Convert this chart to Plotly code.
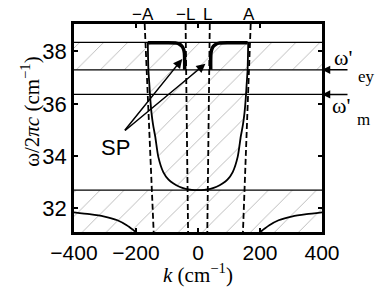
import plotly.graph_objects as go

# ---------------- data ----------------
k_range = [-400, 400]
w_range = [31.1, 39.05]
x_ticks = [-400, -200, 0, 200, 400]
y_ticks = [32, 34, 36, 38]

# horizontal characteristic frequencies
w_band_top = 38.35      # top of upper reststrahlen band
w_ey = 37.30            # omega'_ey
w_m = 36.36             # omega'_m
w_low_band_top = 32.70  # top of lower band

# lower branch (left half, right half is mirror)
k_low_left = [-400, -350, -305, -260, -230, -208, -195]
w_low = [31.85, 31.78, 31.70, 31.55, 31.36, 31.17, 31.05]
k_low_right = [195, 208, 230, 260, 305, 350, 400]
w_low_right = [31.05, 31.17, 31.36, 31.55, 31.70, 31.78, 31.85]

# U-shaped bulk branch
k_U = [-162, -160, -157, -154, -150, -145, -138, -128, -112, -95, -79, -60, -40, -20, 0,
       20, 40, 60, 79, 95, 112, 128, 138, 145, 150, 154, 157, 160, 162]
w_U = [38.33, 37.30, 36.75, 36.20, 35.65, 35.20, 34.75, 33.97, 33.39, 33.10, 32.95, 32.83, 32.75, 32.71, 32.70,
       32.71, 32.75, 32.83, 32.95, 33.10, 33.39, 33.97, 34.75, 35.20, 35.65, 36.20, 36.75, 37.30, 38.33]

# surface polariton (SP) branches (thick)
k_SP_left = [-162, -100, -70, -60, -52, -47, -44, -43, -43]
w_SP_left = [38.33, 38.33, 38.32, 38.28, 38.20, 38.10, 37.95, 37.70, 37.30]
k_SP_right = [41, 41, 42, 45, 50, 58, 68, 100, 160]
w_SP_right = [37.30, 37.70, 37.95, 38.10, 38.20, 38.28, 38.32, 38.33, 38.33]

# dashed lines: (k at top, k at bottom)
dash_labels = ["\u2212A", "\u2212L", "L", "A"]
dash_k_top = [-172, -40, 38, 170]
dash_k_bottom = [-143, -32, 30, 145]
dash_label_k = [-178, -40, 31, 163]

# SP arrows: tail and heads
sp_tail = (-240, 34.93)
sp_heads = [(-51, 37.71), (24, 37.53)]

SANS = "Liberation Sans, Arial, sans-serif"
SERIF = "Liberation Serif, Times New Roman, serif"

fig = go.Figure()

pattern = dict(shape="/", fgcolor="#666666", bgcolor="white", size=17, solidity=0.05)

# hatched upper band
fig.add_trace(go.Scatter(x=[k_range[0], k_range[1], k_range[1], k_range[0]],
                         y=[w_ey, w_ey, w_band_top, w_band_top],
                         fill="toself", fillpattern=pattern, fillcolor="white",
                         line=dict(width=0), mode="lines", hoverinfo="skip"))
# hatched lower band
fig.add_trace(go.Scatter(x=[k_range[0], k_range[1], k_range[1], k_range[0]],
                         y=[w_range[0] - 1, w_range[0] - 1, w_low_band_top, w_low_band_top],
                         fill="toself", fillpattern=pattern, fillcolor="white",
                         line=dict(width=0), mode="lines", hoverinfo="skip"))
# hatched interior of U (up to omega'_ey)
uk = [k for k, w in zip(k_U, w_U) if w <= w_ey + 1e-9]
uw = [w for w in w_U if w <= w_ey + 1e-9]
fig.add_trace(go.Scatter(x=uk, y=uw, fill="toself", fillpattern=pattern, fillcolor="white",
                         line=dict(width=0), mode="lines", hoverinfo="skip"))

# horizontal lines
for lvl in [w_band_top, w_ey, w_m, w_low_band_top]:
    fig.add_trace(go.Scatter(x=k_range, y=[lvl, lvl], mode="lines",
                             line=dict(color="black", width=1.3), hoverinfo="skip"))

# dashed lines
for kt, kb in zip(dash_k_top, dash_k_bottom):
    fig.add_trace(go.Scatter(x=[kt, kb], y=[w_range[1], w_range[0]], mode="lines",
                             line=dict(color="black", width=1.8, dash="6px,3px"), hoverinfo="skip"))

# U branch
fig.add_trace(go.Scatter(x=k_U, y=w_U, mode="lines", line=dict(color="black", width=1.8, shape="spline", smoothing=0.6),
                         hoverinfo="skip"))
# lower branches
fig.add_trace(go.Scatter(x=k_low_left, y=w_low, mode="lines", line=dict(color="black", width=1.8, shape="spline", smoothing=0.6),
                         hoverinfo="skip"))
fig.add_trace(go.Scatter(x=k_low_right, y=w_low_right, mode="lines", line=dict(color="black", width=1.8, shape="spline", smoothing=0.6),
                         hoverinfo="skip"))
# SP branches (thick)
fig.add_trace(go.Scatter(x=k_SP_left, y=w_SP_left, mode="lines", line=dict(color="black", width=3.5, shape="spline", smoothing=0.5),
                         hoverinfo="skip"))
fig.add_trace(go.Scatter(x=k_SP_right, y=w_SP_right, mode="lines", line=dict(color="black", width=3.5, shape="spline", smoothing=0.5),
                         hoverinfo="skip"))

annotations = []
# top labels
for lab, kx in zip(dash_labels, dash_label_k):
    annotations.append(dict(x=kx, y=1.0, xref="x", yref="paper", yshift=10, text=lab, showarrow=False,
                            font=dict(family=SANS, size=17, color="black"), yanchor="middle"))
# SP label and arrows
annotations.append(dict(x=sp_tail[0] - 25, y=sp_tail[1] - 0.05, xref="x", yref="y", text="SP", showarrow=False,
                        xanchor="center", yanchor="top", font=dict(family=SANS, size=22, color="black")))
for hx, hy in sp_heads:
    annotations.append(dict(x=hx, y=hy, xref="x", yref="y", ax=sp_tail[0], ay=sp_tail[1], axref="x", ayref="y",
                            text="", showarrow=True, arrowhead=2, arrowsize=1.2, arrowwidth=1.5, arrowcolor="black"))
# right side arrows and labels
for lvl in [w_ey, w_m]:
    annotations.append(dict(x=1.0, y=lvl, xref="paper", yref="y", ax=27, ay=0, text="", showarrow=True,
                            arrowhead=2, arrowsize=1.1, arrowwidth=1.5, arrowcolor="black"))
annotations.append(dict(x=1.0, y=w_ey, xref="paper", yref="y", xshift=10, yshift=12, text="\u03c9'", showarrow=False,
                        xanchor="left", yanchor="middle", font=dict(family=SERIF, size=22, color="black")))
annotations.append(dict(x=1.0, y=w_ey, xref="paper", yref="y", xshift=34, yshift=-7, text="ey", showarrow=False,
                        xanchor="left", yanchor="middle", font=dict(family=SERIF, size=17, color="black")))
annotations.append(dict(x=1.0, y=w_m, xref="paper", yref="y", xshift=8, yshift=-11, text="\u03c9'", showarrow=False,
                        xanchor="left", yanchor="middle", font=dict(family=SERIF, size=22, color="black")))
annotations.append(dict(x=1.0, y=w_m, xref="paper", yref="y", xshift=33, yshift=-25, text="m", showarrow=False,
                        xanchor="left", yanchor="middle", font=dict(family=SERIF, size=17, color="black")))
# axis titles
annotations.append(dict(x=0, y=0.58, xref="paper", yref="paper", xshift=-59, text="\u03c9/2<i>\u03c0c</i> (cm<sup>\u22121</sup>)",
                        textangle=-90, showarrow=False, font=dict(family=SERIF, size=21, color="black")))
annotations.append(dict(x=0.5, y=0, xref="paper", yref="paper", yshift=-41, text="<i>k</i> (cm<sup>\u22121</sup>)",
                        showarrow=False, yanchor="middle", font=dict(family=SERIF, size=21, color="black")))

fig.update_layout(
    width=382, height=289,
    margin=dict(l=74, r=60, t=24, b=57, autoexpand=False),
    plot_bgcolor="white", paper_bgcolor="white",
    showlegend=False,
    annotations=annotations,
    xaxis=dict(range=k_range, tickvals=x_ticks, ticks="inside", ticklen=4, tickwidth=1.5, tickcolor="black",
               showline=True, linewidth=2.5, linecolor="black", mirror="ticks", showgrid=False, zeroline=False,
               automargin=False, tickfont=dict(family=SANS, size=21, color="black")),
    yaxis=dict(range=w_range, tickvals=y_ticks, ticks="inside", ticklen=4, tickwidth=1.5, tickcolor="black",
               showline=True, linewidth=2.5, linecolor="black", mirror="ticks", showgrid=False, zeroline=False,
               automargin=False, tickfont=dict(family=SANS, size=22, color="black")),
)

fig.write_html("out.html", config={"displayModeBar": False},
               post_script="document.body.style.margin='0px';document.body.style.padding='0px';")
